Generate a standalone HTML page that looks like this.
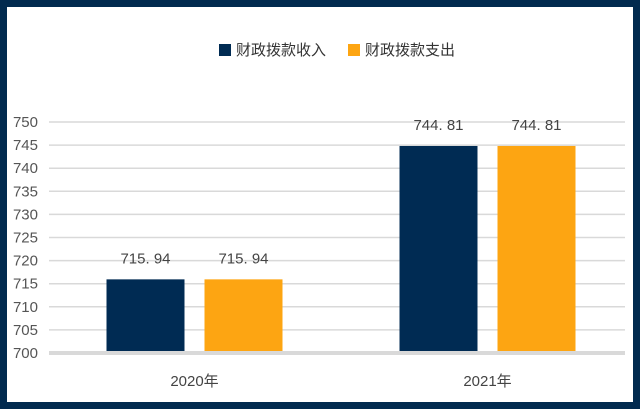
<!DOCTYPE html>
<html><head><meta charset="utf-8"><style>
html,body{margin:0;padding:0;background:#fff}
svg{display:block}
text{font-family:"Liberation Sans","Noto Sans CJK SC",sans-serif}
</style></head><body>
<svg width="640" height="410" xmlns="http://www.w3.org/2000/svg">
<rect x="3.5" y="3.5" width="633" height="402" fill="#fff" stroke="#012a4f" stroke-width="7"/>
<g id="legend">
<rect x="219" y="44" width="12" height="12" fill="#002b53"/>
<text x="236" y="55" font-size="15" fill="#333">财政拨款收入</text>
<rect x="348" y="44" width="12" height="12" fill="#fda512"/>
<text x="365" y="55" font-size="15" fill="#333">财政拨款支出</text>
</g>
<g id="grid"></g><g id="bars"></g>
</svg>
<script>
const categories=["2020年","2021年"];
const income=[715.94,744.81];
const expense=[715.94,744.81];
const yTicks=[700,705,710,715,720,725,730,735,740,745,750];
const NS="http://www.w3.org/2000/svg";
const y=v=>353-(v-700)*4.62;
const grid=document.getElementById('grid'),bars=document.getElementById('bars');
function mk(tag,attrs,parent,txt){const e=document.createElementNS(NS,tag);for(const k in attrs)e.setAttribute(k,attrs[k]);if(txt!==undefined)e.textContent=txt;parent.appendChild(e);return e;}
yTicks.forEach(t=>{
 const l=mk('line',{x1:49,x2:625,y1:y(t),y2:y(t),stroke:t===700?'#d9d9d9':'#d9d9d9','stroke-width':t===700?4:1.5},grid);
 
 
 const tx=mk('text',{x:38,y:y(t)+5,'font-size':15,fill:'#555','text-anchor':'end'},grid,t);
 
 
});
const groupW=293,x0=49,bw=78,gap=20;
categories.forEach((c,i)=>{
 const cx=x0+groupW*(i+0.5)-1;
 [[income[i],'#002b53','income'],[expense[i],'#fda512','expense']].forEach((s,j)=>{
  const bx=cx-gap/2-bw+j*(bw+gap);
  const r=mk('rect',{x:bx,y:y(s[0]),width:bw,height:351-y(s[0]),fill:s[1]},bars);
  
  
  const lb=mk('text',{x:bx+bw/2,y:y(s[0])-16,'font-size':15,fill:'#444','text-anchor':'middle'},bars,s[0].toFixed(2).replace('.','. '));
  
  
 });
 const ct=mk('text',{x:cx,y:386,'font-size':15,fill:'#444','text-anchor':'middle'},bars,c);
 
 
});
</script>
</body></html>
